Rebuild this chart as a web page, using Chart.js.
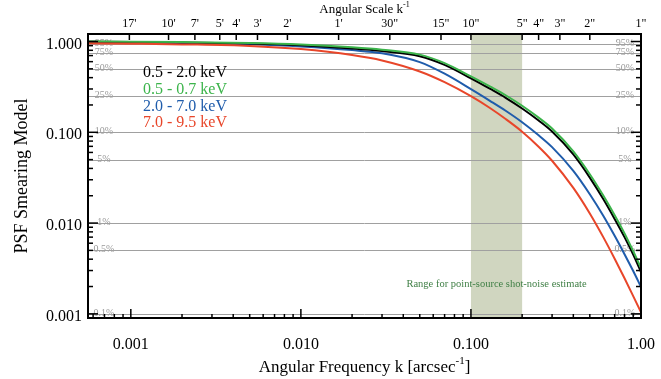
<!DOCTYPE html>
<html>
<head>
<meta charset="utf-8">
<script src="https://cdn.jsdelivr.net/npm/chart.js@4.4.1/dist/chart.umd.min.js"></script>
<style>
  html, body { margin:0; padding:0; background:#fff; }
  #wrap { width:661px; height:379px; }
</style>
</head>
<body>
<div id="wrap"><canvas id="psf" width="661" height="379"></canvas></div>
<script>
// ---------- DATA ----------
const K = [0.00056, 0.001, 0.002, 0.005, 0.01, 0.02, 0.03, 0.05, 0.07, 0.1, 0.13, 0.16, 0.2, 0.25, 0.3, 0.4, 0.5, 0.6, 0.7, 0.8, 0.9, 1.0];
const BAND_05_20 = [0.993, 0.988, 0.978, 0.95, 0.908, 0.838, 0.785, 0.689, 0.553, 0.393, 0.30, 0.24, 0.183, 0.135, 0.102, 0.057, 0.0317, 0.0184, 0.0111, 0.0070, 0.0045, 0.0029];
const BAND_05_07 = [0.998, 0.995, 0.985, 0.962, 0.926, 0.863, 0.812, 0.717, 0.578, 0.413, 0.318, 0.256, 0.196, 0.145, 0.110, 0.0616, 0.0345, 0.0201, 0.0122, 0.0077, 0.0049, 0.0032];
const BAND_20_70 = [0.988, 0.978, 0.963, 0.931, 0.881, 0.804, 0.742, 0.593, 0.442, 0.299, 0.221, 0.1726, 0.129, 0.0927, 0.0687, 0.0376, 0.0208, 0.01205, 0.00724, 0.00454, 0.00296, 0.00198];
const BAND_70_95 = [0.955, 0.945, 0.93, 0.895, 0.825, 0.71, 0.619, 0.468, 0.357, 0.25, 0.184, 0.140, 0.1015, 0.0694, 0.0486, 0.0244, 0.01276, 0.0070, 0.00405, 0.00247, 0.00157, 0.00104];

const SERIES_LABELS = ["0.5 - 2.0 keV", "0.5 - 0.7 keV", "2.0 - 7.0 keV", "7.0 - 9.5 keV"];
const SERIES_COLORS = ["#000000", "#3cb44b", "#1f5cab", "#e8462a"];

const BOTTOM_TICKS = [0.001, 0.01, 0.1, 1];
const BOTTOM_LABELS = ["0.001", "0.010", "0.100", "1.00"];
const LEFT_TICKS = [0.001, 0.01, 0.1, 1];
const LEFT_LABELS = ["0.001", "0.010", "0.100", "1.000"];
const TOP_LABELS = ["17'", "10'", "7'", "5'", "4'", "3'", "2'", "1'", '30"', '15"', '10"', '5"', '4"', '3"', '2"', '1"'];
const TOP_ARCSEC = [1020, 600, 420, 300, 240, 180, 120, 60, 30, 15, 10, 5, 4, 3, 2, 1];
const GRID_VALUES = [0.95, 0.75, 0.5, 0.25, 0.1, 0.05, 0.01, 0.005, 0.001];
const GRID_LABELS = ["95%", "75%", "50%", "25%", "10%", "5%", "1%", "0.5%", "0.1%"];
const SHADE = [0.1, 0.2];
const SHADE_TEXT = "Range for point-source shot-noise estimate";

const XMIN = 0.00056, XMAX = 1.0;
const YMIN = 0.0009, YMAX = 1.21;
const SERIF = "'Liberation Serif', 'Times New Roman', serif";

// ---------- HELPERS ----------
function line(ctx, x1, y1, x2, y2){
  ctx.beginPath(); ctx.moveTo(x1, y1); ctx.lineTo(x2, y2); ctx.stroke();
}

// draws [text, sup, text...] centered on (cx, cy)
function drawParts(ctx, parts, cx, cy, size){
  const big = size + "px " + SERIF, small = Math.round(size*0.62) + "px " + SERIF;
  let w = 0;
  parts.forEach(p => { ctx.font = p.sup ? small : big; w += ctx.measureText(p.t).width; });
  let x = cx - w/2;
  ctx.textAlign = "left"; ctx.textBaseline = "middle";
  parts.forEach(p => {
    ctx.font = p.sup ? small : big;
    ctx.fillText(p.t, x, p.sup ? cy - size*0.38 : cy);
    x += ctx.measureText(p.t).width;
  });
}

// no extra room for overhanging tick labels: keep the frame where it is
function noPad(s){ s.paddingLeft = 0; s.paddingRight = 0; s.paddingTop = 0; s.paddingBottom = 0; }

// ---------- PLUGIN ----------
const decor = {
  id: "decor",
  beforeDraw(chart){
    const { ctx, chartArea: ca, scales } = chart;
    ctx.save();
    ctx.fillStyle = "#fff";
    ctx.fillRect(0, 0, chart.width, chart.height);
    const x1 = scales.x.getPixelForValue(SHADE[0]), x2 = scales.x.getPixelForValue(SHADE[1]);
    ctx.fillStyle = "rgb(208,214,192)";
    ctx.fillRect(x1, ca.top, x2 - x1, ca.bottom - ca.top);
    ctx.restore();
  },
  beforeDatasetsDraw(chart){
    const { ctx, chartArea: ca, scales } = chart;
    ctx.save();
    ctx.font = "10px " + SERIF;
    ctx.textAlign = "center"; ctx.textBaseline = "alphabetic";
    GRID_VALUES.forEach((v, i) => {
      const y = Math.round(scales.y.getPixelForValue(v)) + 0.5;
      ctx.fillStyle = "#9a9a9a";
      ctx.fillText(GRID_LABELS[i], ca.left + 16, y + 1);
      ctx.fillText(GRID_LABELS[i], ca.right - 16, y + 1);
      ctx.strokeStyle = "#a0a0a0"; ctx.lineWidth = 1;
      line(ctx, ca.left, y, ca.right, y);
    });
    // shade caption
    const xm = (scales.x.getPixelForValue(SHADE[0]) + scales.x.getPixelForValue(SHADE[1])) / 2;
    ctx.fillStyle = "#3f7f45";
    ctx.font = "10.5px " + SERIF;
    ctx.textBaseline = "middle";
    ctx.fillText(SHADE_TEXT, xm, ca.bottom - 34);
    ctx.restore();
  },
  afterDatasetsDraw(chart){
    const { ctx, chartArea: ca, scales } = chart;
    ctx.save();
    ctx.strokeStyle = "#000"; ctx.lineWidth = 1.5;
    // inward ticks
    for (let e = -4; e <= 0; e++){
      for (let m = 1; m <= 9; m++){
        const v = m * Math.pow(10, e);
        if (v >= YMIN && v <= YMAX){
          const y = scales.y.getPixelForValue(v), L = m === 1 ? 10 : 5;
          line(ctx, ca.left, y, ca.left + L, y);
          line(ctx, ca.right, y, ca.right - L, y);
        }
        if (v >= XMIN && v <= XMAX){
          const x = scales.x.getPixelForValue(v), L = m === 1 ? 9 : 4;
          line(ctx, x, ca.bottom, x, ca.bottom - L);
        }
      }
    }
    TOP_ARCSEC.forEach(a => {
      const x = scales.x2.getPixelForValue(1 / a);
      line(ctx, x, ca.top, x, ca.top + 6);
    });
    ctx.lineWidth = 2;
    ctx.strokeRect(ca.left, ca.top, ca.right - ca.left, ca.bottom - ca.top);

    // legend
    ctx.font = "16px " + SERIF;
    ctx.textAlign = "left"; ctx.textBaseline = "middle";
    SERIES_LABELS.forEach((s, i) => {
      ctx.fillStyle = SERIES_COLORS[i];
      ctx.fillText(s, ca.left + 55, ca.top + 39 + i * 16.7);
    });
    ctx.restore();
  },
  afterDraw(chart){
    const { ctx, chartArea: ca } = chart;
    const cx = (ca.left + ca.right) / 2;
    ctx.save();
    ctx.fillStyle = "#000";
    drawParts(ctx, [{t:"Angular Scale k"}, {t:"-1", sup:true}], cx, 10, 13);
    drawParts(ctx, [{t:"Angular Frequency k [arcsec"}, {t:"-1", sup:true}, {t:"]"}], cx, 368, 17);
    ctx.translate(22, (ca.top + ca.bottom) / 2);
    ctx.rotate(-Math.PI / 2);
    drawParts(ctx, [{t:"PSF Smearing Model"}], 0, 0, 18);
    ctx.restore();
  }
};

// ---------- CHART ----------
const seriesValues = [BAND_05_20, BAND_05_07, BAND_20_70, BAND_70_95];
const drawOrder = [2, 1, 3, 0]; // red on top, then green, black, blue

new Chart(document.getElementById("psf"), {
  type: "line",
  data: {
    datasets: seriesValues.map((vals, i) => ({
      label: SERIES_LABELS[i],
      data: K.map((k, j) => ({ x: k, y: vals[j] })),
      borderColor: SERIES_COLORS[i],
      borderWidth: 2,
      pointRadius: 0,
      fill: false,
      cubicInterpolationMode: "monotone",
      order: drawOrder[i],
      xAxisID: "x", yAxisID: "y"
    }))
  },
  options: {
    responsive: false,
    animation: false,
    devicePixelRatio: 1,
    layout: { padding: 0 },
    plugins: { legend: { display: false }, tooltip: { enabled: false } },
    scales: {
      x: {
        type: "logarithmic", position: "bottom", min: XMIN, max: XMAX,
        afterBuildTicks: s => { s.ticks = BOTTOM_TICKS.map(v => ({ value: v })); },
        ticks: { callback: (v, i) => BOTTOM_LABELS[i], font: { family: SERIF, size: 16 }, color: "#000", padding: 17, maxRotation: 0, autoSkip: false },
        grid: { display: false, drawTicks: false },
        border: { display: false },
        afterFit: s => { s.height = 61; noPad(s); }
      },
      x2: {
        type: "logarithmic", position: "top", min: XMIN, max: XMAX,
        afterBuildTicks: s => { s.ticks = TOP_ARCSEC.map(a => ({ value: 1 / a })); },
        ticks: { callback: (v, i) => TOP_LABELS[i], font: { family: SERIF, size: 12 }, color: "#000", padding: 3, maxRotation: 0, autoSkip: false },
        grid: { display: false, drawTicks: false },
        border: { display: false },
        afterFit: s => { s.height = 34; noPad(s); }
      },
      y: {
        type: "logarithmic", position: "left", min: YMIN, max: YMAX,
        afterBuildTicks: s => { s.ticks = LEFT_TICKS.map(v => ({ value: v })); },
        ticks: { callback: (v, i) => LEFT_LABELS[i], font: { family: SERIF, size: 16 }, color: "#000", padding: 6, labelOffset: 3 },
        grid: { display: false, drawTicks: false },
        border: { display: false },
        afterFit: s => { s.width = 88; noPad(s); }
      },
      y2: {
        type: "logarithmic", position: "right", min: YMIN, max: YMAX,
        ticks: { display: false },
        grid: { display: false, drawTicks: false },
        border: { display: false },
        afterFit: s => { s.width = 20; noPad(s); }
      }
    }
  },
  plugins: [decor]
});
</script>
</body>
</html>
